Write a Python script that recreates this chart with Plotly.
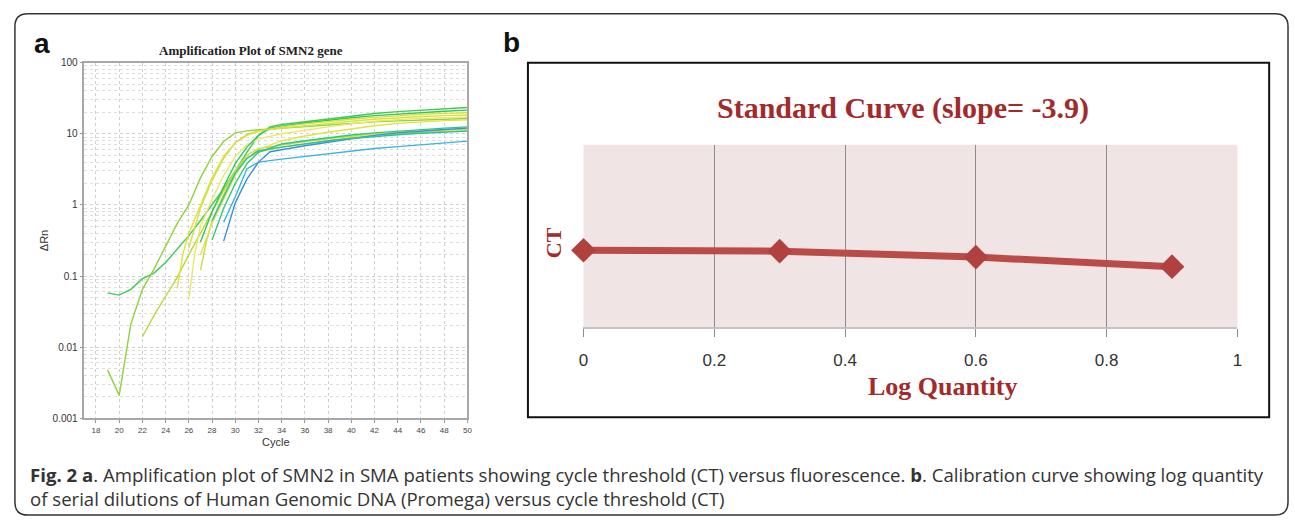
import plotly.graph_objects as go

W, H = 1295, 523

def px(x):
    return x / W

def py(y):
    return 1 - y / H

# ---------------- Panel a data: amplification curves (Cycle vs ΔRn) ----------------
cyc_A = [19, 20, 21, 22, 23, 24, 25, 26, 27, 28, 29, 30, 31, 32, 33, 34, 36, 38, 40, 42, 44, 46, 48, 50]
rn_A = [0.058, 0.054, 0.065, 0.092, 0.11, 0.155, 0.24, 0.37, 0.6, 1.0, 1.7, 3.0, 5.5, 9.5, 12.5, 13.5, 14.8, 16.3, 17.8, 19.3, 20.5, 21.6, 22.6, 23.4]

cyc_B = [19, 20, 21, 22, 23, 24, 25, 26, 27, 28, 29, 30, 31, 32, 34, 36, 38, 40, 42, 44, 46, 48, 50]
rn_B = [0.0048, 0.0021, 0.021, 0.065, 0.125, 0.26, 0.55, 1.0, 2.4, 4.8, 7.8, 10.3, 11.0, 11.4, 12.0, 12.8, 13.5, 14.1, 14.7, 15.2, 15.6, 16.0, 16.4]

cyc_C = [22, 23, 24, 25, 26, 27, 28, 29, 30, 31, 32, 34, 36, 38, 40, 42, 44, 46, 48, 50]
rn_C = [0.014, 0.028, 0.052, 0.096, 0.2, 0.4, 0.8, 1.6, 3.0, 4.6, 5.6, 6.5, 7.2, 8.0, 8.8, 9.5, 10.0, 10.5, 10.8, 11.0]

cyc_D = [25, 25.5, 26, 27, 28, 29, 30, 31, 32, 34, 36, 38, 40, 42, 44, 46, 48, 50]
rn_D = [0.067, 0.21, 0.4, 1.0, 2.4, 4.8, 7.5, 9.5, 10.8, 12.0, 13.0, 14.0, 15.0, 16.0, 16.8, 17.5, 18.0, 18.4]

cyc_E = [26, 26.5, 27, 28, 29, 30, 31, 32, 34, 36, 38, 40, 42, 44, 46, 48, 50]
rn_E = [0.048, 0.2, 0.5, 1.2, 2.6, 4.8, 7.0, 8.5, 10.0, 11.3, 12.5, 13.8, 15.0, 15.8, 16.5, 16.8, 17.1]

cyc_F = [27, 27.5, 28, 29, 30, 31, 32, 34, 36, 38, 40, 42, 44, 46, 48, 50]
rn_F = [0.12, 0.3, 0.6, 1.4, 3.0, 5.0, 6.2, 7.0, 7.8, 8.5, 9.3, 10.0, 10.5, 11.0, 11.3, 11.5]

cyc_G = [27, 28, 29, 30, 31, 32, 34, 36, 38, 40, 42, 44, 46, 48, 50]
rn_G = [0.2, 0.55, 1.2, 2.6, 4.5, 6.0, 8.0, 9.3, 10.5, 11.8, 13.0, 14.0, 14.8, 15.3, 15.7]

cyc_H = [28, 29, 30, 31, 32, 34, 36, 38, 40, 42, 44, 46, 48, 50]
rn_H = [0.32, 0.9, 2.0, 3.8, 5.5, 7.2, 8.0, 8.8, 9.6, 10.3, 10.9, 11.5, 12.0, 12.5]

cyc_I = [29, 30, 31, 32, 34, 36, 38, 40, 42, 44, 46, 48, 50]
rn_I = [0.57, 1.3, 3.2, 4.0, 4.4, 4.8, 5.3, 5.8, 6.2, 6.6, 7.0, 7.5, 7.9]

cyc_J = [29, 30, 31, 32, 33, 34, 36, 38, 40, 42, 44, 46, 48, 50]
rn_J = [0.31, 1.07, 2.3, 4.0, 5.6, 6.0, 6.8, 7.6, 8.6, 9.5, 10.3, 11.0, 11.5, 12.0]

cyc_K = [27, 28, 29, 30, 31, 32, 33, 34, 36, 38, 40, 42, 44, 46, 48, 50]
rn_K = [0.3, 0.8, 1.8, 3.8, 6.5, 9.5, 12.0, 12.8, 14.2, 15.5, 16.8, 18.0, 19.0, 20.0, 20.8, 21.5]

cyc_L = [26, 27, 28, 29, 30, 31, 32, 34, 36, 38, 40, 42, 44, 46, 48, 50]
rn_L = [0.25, 0.9, 2.2, 4.5, 7.5, 9.8, 11.0, 12.5, 13.8, 15.0, 16.0, 17.0, 18.0, 18.8, 19.4, 19.8]

cyc_M = [28, 29, 30, 31, 32, 34, 36, 38, 40, 42, 44, 46, 48, 50]
rn_M = [0.6, 1.3, 2.8, 4.5, 5.8, 6.5, 7.2, 8.0, 8.6, 9.2, 9.7, 10.2, 10.6, 10.9]

curve_colors = ["#3fca55", "#8fd43a", "#b8d83a", "#dfe03c", "#e8e86a", "#c9dc3c", "#e2e24a",
                "#30c878", "#38b4e0", "#3a90dc", "#2ec85a", "#d6e040", "#2cc0a0"]

x_ticks_a = list(range(18, 51, 2))
y_tickvals_a = [0.001, 0.01, 0.1, 1, 10, 100]
y_ticktext_a = ["0.001", "0.01", "0.1", "1", "10", "100"]

# ---------------- Panel b data: standard curve ----------------
log_quantity = [0, 0.3, 0.6, 0.9]
ct_values = [16.9, 16.7, 15.4, 13.3]
x_ticks_b = [0, 0.2, 0.4, 0.6, 0.8, 1]
x_ticktext_b = ["0", "0.2", "0.4", "0.6", "0.8", "1"]

fig = go.Figure()

curves = [(cyc_A, rn_A), (cyc_B, rn_B), (cyc_C, rn_C), (cyc_D, rn_D), (cyc_E, rn_E),
          (cyc_F, rn_F), (cyc_G, rn_G), (cyc_H, rn_H), (cyc_I, rn_I), (cyc_J, rn_J),
          (cyc_K, rn_K), (cyc_L, rn_L), (cyc_M, rn_M)]
for (cx, cy), col in zip(curves, curve_colors):
    fig.add_trace(go.Scatter(x=cx, y=cy, mode="lines", line=dict(color=col, width=1.4),
                             showlegend=False, hoverinfo="skip", xaxis="x", yaxis="y"))

fig.add_trace(go.Scatter(x=log_quantity, y=ct_values, mode="lines+markers",
                         line=dict(color="#b94b49", width=7),
                         marker=dict(symbol="diamond", size=19, color="#b0413f"),
                         cliponaxis=False, showlegend=False, xaxis="x2", yaxis="y2"))

shapes = []
# outer rounded frame
x0, x1, y0, y1, r = 10, 1293, 8, 521, 13
path = (f"M {px(x0+r)} {py(y0)} L {px(x1-r)} {py(y0)} Q {px(x1)} {py(y0)} {px(x1)} {py(y0+r)} "
        f"L {px(x1)} {py(y1-r)} Q {px(x1)} {py(y1)} {px(x1-r)} {py(y1)} "
        f"L {px(x0+r)} {py(y1)} Q {px(x0)} {py(y1)} {px(x0)} {py(y1-r)} "
        f"L {px(x0)} {py(y0+r)} Q {px(x0)} {py(y0)} {px(x0+r)} {py(y0)} Z")
shapes.append(dict(type="path", xref="paper", yref="paper", path=path,
                   line=dict(color="#333333", width=1.5)))
# panel b box
shapes.append(dict(type="rect", xref="paper", yref="paper", x0=px(527), x1=px(1274),
                   y0=py(421), y1=py(58), line=dict(color="#111111", width=2)))
# panel b shaded plot area
shapes.append(dict(type="rect", xref="x2 domain", yref="y2 domain", x0=0, x1=1, y0=0, y1=1,
                   fillcolor="#f1e4e4", line=dict(width=0), layer="below"))

dark_red = "#a32a2a"
annotations = [
    dict(text="<b>a</b>", x=px(37), y=py(38), font=dict(family="Liberation Sans", size=28, color="#111")),
    dict(text="<b>b</b>", x=px(510), y=py(37), font=dict(family="Liberation Sans", size=28, color="#111")),
    dict(text="<b>Amplification Plot of SMN2 gene</b>", x=px(248), y=py(46),
         font=dict(family="Liberation Serif", size=13, color="#222")),
    dict(text="ΔRn", x=px(40), y=py(240), textangle=-90,
         font=dict(family="Liberation Sans", size=11, color="#333")),
    dict(text="Cycle", x=px(273), y=py(446),
         font=dict(family="Liberation Sans", size=11, color="#333")),
    dict(text="<b>Standard Curve (slope= -3.9)</b>", x=px(905), y=py(104),
         font=dict(family="Liberation Serif", size=30, color=dark_red)),
    dict(text="<b>CT</b>", x=px(553), y=py(242), textangle=-90,
         font=dict(family="Liberation Serif", size=22, color=dark_red)),
    dict(text="<b>Log Quantity</b>", x=px(945), y=py(389),
         font=dict(family="Liberation Serif", size=26, color=dark_red)),
    dict(text="<b>Fig. 2 a</b>. Amplification plot of SMN2 in SMA patients showing cycle threshold (CT) versus fluorescence. "
              "<b>b</b>. Calibration curve showing log quantity",
         x=px(23), y=py(479), xanchor="left",
         font=dict(family="Open Sans", size=18.6, color="#333")),
    dict(text="of serial dilutions of Human Genomic DNA (Promega) versus cycle threshold (CT)",
         x=px(23), y=py(504), xanchor="left",
         font=dict(family="Open Sans", size=18.6, color="#333")),
]
for a in annotations:
    a.setdefault("xanchor", "center")
    a.update(xref="paper", yref="paper", yanchor="middle", showarrow=False)

fig.update_layout(
    width=W, height=H,
    margin=dict(l=0, r=0, t=0, b=0),
    paper_bgcolor="white", plot_bgcolor="white",
    shapes=shapes, annotations=annotations,
    xaxis=dict(domain=[px(80), px(466)], range=[17, 50], anchor="y",
               tickvals=x_ticks_a, ticktext=[str(v) for v in x_ticks_a],
               showgrid=True, gridcolor="#cfcfcf", griddash="dot", gridwidth=1,
               showline=True, linecolor="#a8a8a8", linewidth=1.5, mirror=True,
               ticks="outside", ticklen=3, tickcolor="#999",
               tickfont=dict(family="Liberation Sans", size=8, color="#444"), zeroline=False),
    yaxis=dict(domain=[py(422), py(58)], type="log", range=[-3, 2], anchor="x",
               tickvals=y_tickvals_a, ticktext=y_ticktext_a,
               showgrid=True, gridcolor="#cfcfcf", griddash="dot", gridwidth=1,
               minor=dict(dtick="D1", showgrid=True, gridcolor="#dcdcdc", griddash="dot"),
               showline=True, linecolor="#a8a8a8", linewidth=1.5, mirror=True,
               ticks="outside", ticklen=3, tickcolor="#999",
               tickfont=dict(family="Liberation Sans", size=10, color="#333"), zeroline=False),
    xaxis2=dict(domain=[px(583), px(1242)], range=[0, 1], anchor="y2",
                tickvals=x_ticks_b, ticktext=x_ticktext_b,
                showgrid=True, gridcolor="#8c8c8c", gridwidth=1,
                showline=True, linecolor="#c4c4c4", linewidth=2,
                ticks="outside", ticklen=8, tickcolor="#8c8c8c", ticklabelstandoff=8,
                tickfont=dict(family="Liberation Sans", size=17, color="#333"), zeroline=False),
    yaxis2=dict(domain=[py(329), py(142)], range=[0, 40], anchor="x2",
                showgrid=False, showline=False, showticklabels=False, ticks="", zeroline=False),
)

fig.write_html("out.html", config={"displayModeBar": False},
               post_script="document.body.style.margin='0';document.body.style.overflow='hidden';")
